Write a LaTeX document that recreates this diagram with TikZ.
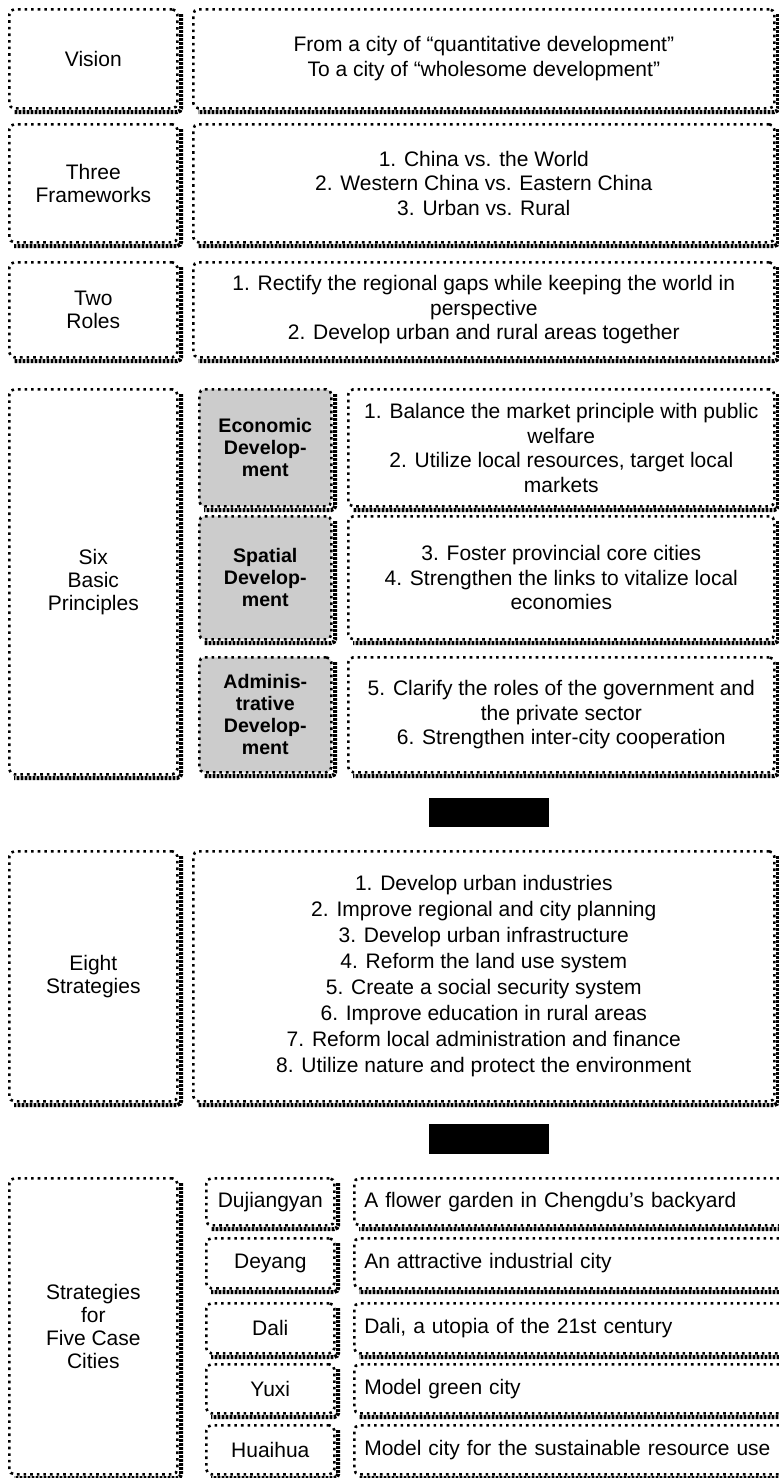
\documentclass[tikz,border=0pt]{standalone}
\usepackage{fontspec}
\setmainfont{Liberation Sans}
\newcommand\boxshadow[1]{%
  \draw[shd] ([xshift=1.3pt,yshift=-3pt]#1.north east) -- ([xshift=1.3pt,yshift=-1.2pt]#1.south east) -- ([xshift=3pt,yshift=-1.2pt]#1.south west);}
\begin{document}
\begin{tikzpicture}[x=0.5pt,y=-0.5pt,
  bx/.style={draw, line width=1.3pt, dash pattern=on 1.3pt off 2pt, rounded corners=2.5pt,
    anchor=north west, inner sep=0pt, align=center,
    font=\fontsize{10.5pt}{12.3pt}\selectfont},
  lbx/.style={bx, font=\fontsize{10.5pt}{11.5pt}\selectfont},
  sz/.style 2 args={minimum width={#1*0.5pt}, minimum height={#2*0.5pt}},
  shaded/.style={fill=black!20, font=\bfseries\fontsize{9.8pt}{11pt}\selectfont},
  lefttext/.style={align=left, text width={(#1)*0.5pt}, inner xsep=5pt},
  shd/.style={line width=2pt, dash pattern=on 1.4pt off 0.6pt, rounded corners=2pt},
  bar/.style={fill=black, anchor=north west, inner sep=0pt}]
\useasboundingbox (0,0) rectangle (779,1478);

% Row 1
\node[lbx, sz={168}{99}] (vis) at (8,8) {Vision};
\node[bx, sz={581}{99}] (visR) at (192,8) {From a city of “quantitative development”\\To a city of “wholesome development”};
% Row 2
\node[lbx, sz={168}{118}] (tf) at (8,123) {Three\\Frameworks};
\node[bx, sz={581}{118}] (tfR) at (192,123) {1. China vs. the World\\2. Western China vs. Eastern China\\3. Urban vs. Rural};
% Row 3
\node[lbx, sz={168}{95}] (tr) at (8,261) {Two\\Roles};
\node[bx, sz={581}{95}] (trR) at (192,261) {1. Rectify the regional gaps while keeping the world in\\perspective\\2. Develop urban and rural areas together};
% Row 4
\node[lbx, sz={168}{385}] (six) at (8,388) {Six\\Basic\\Principles};
\node[bx, shaded, sz={132}{117}] (eco) at (198,388) {Economic\\Develop-\\ment};
\node[bx, sz={426}{117}] (ecoR) at (347,388) {1. Balance the market principle with public\\welfare\\2. Utilize local resources, target local\\markets};
\node[bx, shaded, sz={132}{123}] (spa) at (198,515) {Spatial\\Develop-\\ment};
\node[bx, sz={426}{123}] (spaR) at (347,515) {3. Foster provincial core cities\\4. Strengthen the links to vitalize local\\economies};
\node[bx, shaded, sz={132}{115}] (adm) at (198,656) {Adminis-\\trative\\Develop-\\ment};
\node[bx, sz={426}{115}] (admR) at (347,656) {5. Clarify the roles of the government and\\the private sector\\6. Strengthen inter-city cooperation};
% Bar 1
\node[bar, minimum width=60pt, minimum height=14.5pt] (bar1) at (429,798) {};
% Row 5
\node[lbx, sz={168}{250}] (eight) at (8,850) {Eight\\Strategies};
\node[bx, sz={581}{250}, font=\fontsize{10.5pt}{13pt}\selectfont] (eightR) at (192,850) {1. Develop urban industries\\2. Improve regional and city planning\\3. Develop urban infrastructure\\4. Reform the land use system\\5. Create a social security system\\6. Improve education in rural areas\\7. Reform local administration and finance\\8. Utilize nature and protect the environment};
% Bar 2
\node[bar, minimum width=60pt, minimum height=15pt] (bar2) at (429,1124) {};
% Row 6
\node[lbx, sz={168}{296}] (five) at (8,1177) {Strategies\\for\\Five Case\\Cities};
\node[bx, sz={128}{47}] (dj) at (205,1177) {Dujiangyan};
\node[bx, sz={128}{50}] (de) at (205,1237) {Deyang};
\node[bx, sz={128}{50}] (da) at (205,1302) {Dali};
\node[bx, sz={128}{49}] (yu) at (205,1363) {Yuxi};
\node[bx, sz={128}{49}] (hu) at (205,1424) {Huaihua};
\node[bx, sz={420}{47}, lefttext={420-10}] (djR) at (353,1177) {A flower garden in Chengdu’s backyard};
\node[bx, sz={420}{50}, lefttext={420-10}] (deR) at (353,1237) {An attractive industrial city};
\node[bx, sz={420}{50}, lefttext={420-10}] (daR) at (353,1302) {Dali, a utopia of the 21st century};
\node[bx, sz={420}{49}, lefttext={420-10}] (yuR) at (353,1363) {Model green city};
\node[bx, sz={420}{49}, lefttext={420-10}] (huR) at (353,1424) {Model city for the sustainable resource use};

\foreach \n in {vis,visR,tf,tfR,tr,trR,six,eco,ecoR,spa,spaR,adm,admR,eight,eightR,five,dj,de,da,yu,hu,djR,deR,daR,yuR,huR}{\boxshadow{\n}}
\end{tikzpicture}
\end{document}
